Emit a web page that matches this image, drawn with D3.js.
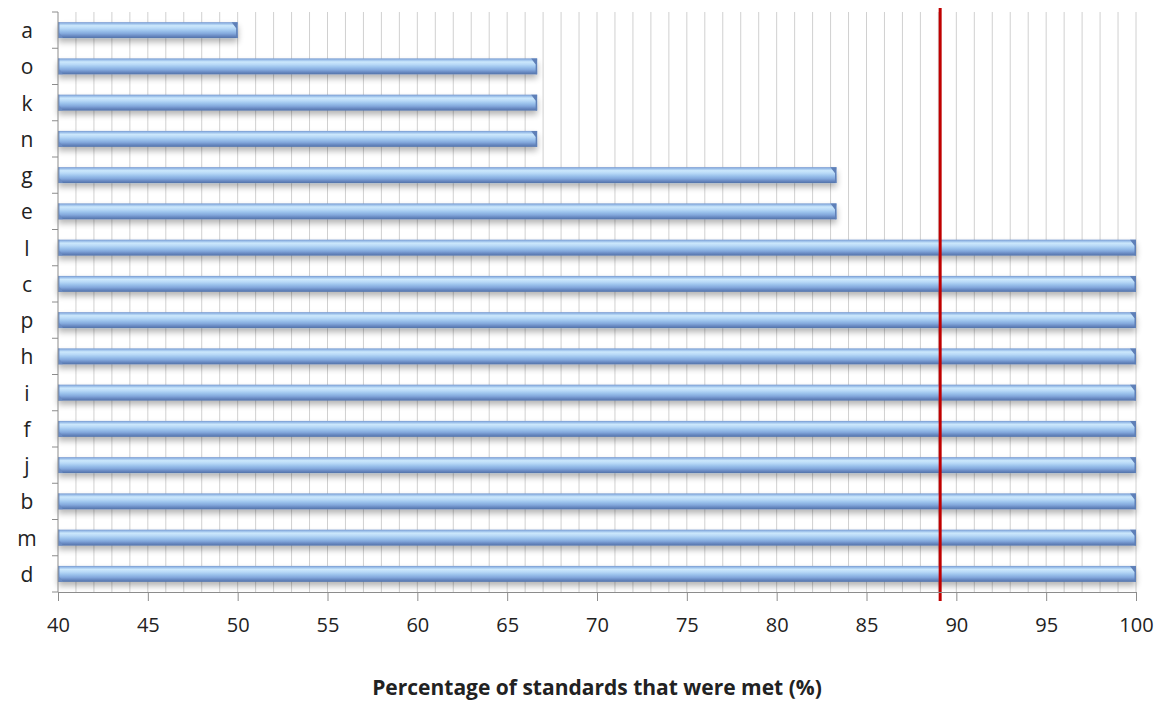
<!DOCTYPE html>
<html>
<head>
<meta charset="utf-8">
<script src="https://cdn.jsdelivr.net/npm/d3@7"></script>
<style>
  body { margin: 0; background: #fff; }
  svg { display: block; }
  text { font-family: "Open Sans", "DejaVu Sans", sans-serif; fill: #222; }
</style>
</head>
<body>
<svg id="chart" width="1167" height="704"></svg>
<script>
// Sites, listed top to bottom
const categories = ["a", "o", "k", "n", "g", "e", "l", "c", "p", "h", "i", "f", "j", "b", "m", "d"];
// Share of standards met at each site (%)
const values = [50, 66.67, 66.67, 66.67, 83.33, 83.33, 100, 100, 100, 100, 100, 100, 100, 100, 100, 100];
// Overall reference level (%)
const referenceLevel = [89.1];
const xTicks = [40, 45, 50, 55, 60, 65, 70, 75, 80, 85, 90, 95, 100];
const xDomain = [40, 100];
const axisTitle = "Percentage of standards that were met (%)";

const svg = d3.select("#chart");
const margin = { left: 58, right: 31, top: 12, bottom: 112 };
const W = 1167, H = 704;
const x = d3.scaleLinear().domain(xDomain).range([margin.left, W - margin.right]);
const y = d3.scaleBand().domain(categories).range([margin.top, H - margin.bottom]).paddingInner(0.56).paddingOuter(0.28);

const defs = svg.append("defs");
const grad = defs.append("linearGradient").attr("id", "barGrad")
  .attr("x1", 0).attr("y1", 0).attr("x2", 0).attr("y2", 1);
[[0, "#7799cf"], [0.1, "#9cc0ea"], [0.22, "#cce8fc"], [0.38, "#b8d9f7"], [0.55, "#9bc2ec"], [0.72, "#83a8dc"], [0.86, "#698ac2"], [1, "#5272a9"]]
  .forEach(([o, c]) => grad.append("stop").attr("offset", o).attr("stop-color", c));
const shadow = defs.append("filter").attr("id", "barShadow")
  .attr("x", "-5%").attr("y", "-50%").attr("width", "110%").attr("height", "250%");
shadow.append("feGaussianBlur").attr("in", "SourceAlpha").attr("stdDeviation", 3).attr("result", "b");
shadow.append("feOffset").attr("in", "b").attr("dy", 4).attr("result", "o");
shadow.append("feComponentTransfer").attr("in", "o").attr("result", "s")
  .append("feFuncA").attr("type", "linear").attr("slope", 0.3);
const merge = shadow.append("feMerge");
merge.append("feMergeNode").attr("in", "s");
merge.append("feMergeNode").attr("in", "SourceGraphic");

const plotTop = margin.top, plotBottom = H - margin.bottom;

// Minor vertical gridlines every 1 unit
const grid = d3.range(xDomain[0] + 1, xDomain[1] + 1, 1);
svg.append("g").selectAll("line").data(grid).join("line")
  .attr("x1", d => x(d)).attr("x2", d => x(d))
  .attr("y1", plotTop).attr("y2", plotBottom)
  .attr("stroke", "#d0d0d0").attr("stroke-width", 1);

// Bars
const bh = y.bandwidth();
const bars = svg.append("g").selectAll("g").data(categories).join("g")
  .attr("filter", "url(#barShadow)");
bars.append("rect")
  .attr("x", x(xDomain[0]))
  .attr("y", d => y(d))
  .attr("width", (d, i) => x(values[i]) - x(xDomain[0]))
  .attr("height", bh)
  .attr("fill", "url(#barGrad)");
// bevelled right end
bars.append("path")
  .attr("d", (d, i) => {
    const xe = x(values[i]), yt = y(d), b = 6;
    return `M${xe - b},${yt} L${xe},${yt} L${xe},${yt + bh} L${xe - 1.5},${yt + bh} L${xe - 1.5},${yt + b} Z`;
  })
  .attr("fill", "#5f80b8");
// bevelled left end
bars.append("path")
  .attr("d", d => {
    const xs = x(xDomain[0]), yt = y(d), b = 5;
    return `M${xs},${yt} L${xs + 1.5},${yt} L${xs + 1.5},${yt + bh - b} L${xs + b},${yt + bh} L${xs},${yt + bh} Z`;
  })
  .attr("fill", "#6c8dc4").attr("opacity", 0.85);

// Reference line
svg.append("g").selectAll("line").data(referenceLevel).join("line")
  .attr("x1", d => x(d)).attr("x2", d => x(d))
  .attr("y1", 8).attr("y2", plotBottom + 9)
  .attr("stroke", "#c00000").attr("stroke-width", 3);

// Y axis
const yAxis = svg.append("g").attr("transform", `translate(${x(xDomain[0])},0)`);
const edges = d3.range(categories.length + 1).map(i => plotTop + i * (plotBottom - plotTop) / categories.length);
yAxis.append("line").attr("x1", 0).attr("x2", 0).attr("y1", plotTop).attr("y2", plotBottom)
  .attr("stroke", "#8c8c8c");
yAxis.selectAll(".tk").data(edges).join("line").attr("class", "tk")
  .attr("x1", -6).attr("x2", 0).attr("y1", d => d).attr("y2", d => d)
  .attr("stroke", "#8c8c8c");
yAxis.selectAll("text").data(categories).join("text")
  .attr("x", -31).attr("y", d => y(d) + bh / 2)
  .attr("text-anchor", "middle").attr("dominant-baseline", "central")
  .attr("font-size", 21).text(d => d);

// X axis
const xAxis = svg.append("g").attr("transform", `translate(0,${plotBottom})`)
  .call(d3.axisBottom(x).tickValues(xTicks).tickSize(9).tickPadding(17));
xAxis.select(".domain").attr("stroke", "#8c8c8c");
xAxis.selectAll(".tick line").attr("stroke", "#8c8c8c");
xAxis.selectAll(".tick text").attr("font-size", 20).attr("fill", "#222")
  .attr("font-family", "\"Open Sans\", sans-serif");

svg.append("text").attr("x", 597).attr("y", 695)
  .attr("text-anchor", "middle").attr("font-size", 21).attr("font-weight", "bold")
  .text(axisTitle);
</script>
</body>
</html>
